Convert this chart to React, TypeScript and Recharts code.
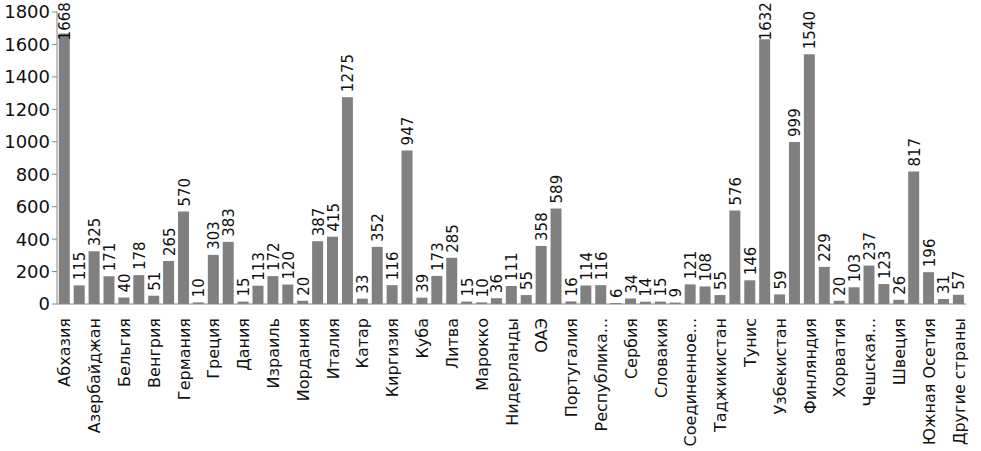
import React from 'react'
import { BarChart, Bar, XAxis, YAxis, LabelList } from 'recharts'

// подписи стоят только под каждым вторым столбцом
const countryLabels = [
    'Абхазия', 'Азербайджан', 'Бельгия', 'Венгрия', 'Германия', 'Греция', 'Дания', 'Израиль',
    'Иордания', 'Италия', 'Катар', 'Киргизия', 'Куба', 'Литва', 'Марокко', 'Нидерланды',
    'ОАЭ', 'Португалия', 'Республика...', 'Сербия', 'Словакия', 'Соединенное...', 'Таджикистан',
    'Тунис', 'Узбекистан', 'Финляндия', 'Хорватия', 'Чешская...', 'Швеция', 'Южная Осетия',
    'Другие страны',
]

const counts = [
    1668, 115, 325, 171, 40, 178, 51, 265, 570, 10, 303, 383, 15, 113, 172, 120, 20, 387, 415,
    1275, 33, 352, 116, 947, 39, 173, 285, 15, 10, 36, 111, 55, 358, 589, 16, 114, 116, 6, 34,
    14, 15, 9, 121, 108, 55, 576, 146, 1632, 59, 999, 1540, 229, 20, 103, 237, 123, 26, 817,
    196, 31, 57,
]

const yTicks = [0, 200, 400, 600, 800, 1000, 1200, 1400, 1600, 1800]

const data = counts.map((value, i) => ({
    id: i,
    name: i % 2 === 0 ? countryLabels[i / 2] : '',
    value,
}))

const FONT = '"DejaVu Sans", sans-serif'

const CountryTick = (props: any) => {
    const { x, y, payload } = props
    const label = data[payload.value]?.name ?? ''
    return (
        <text
            x={0}
            y={0}
            transform={`translate(${x + 6},${y + 6}) rotate(-90)`}
            textAnchor="end"
            fontSize={16}
            fontFamily={FONT}
            fill="#111"
        >
            {label}
        </text>
    )
}

const ValueLabel = (props: any) => {
    const { x, y, width, value } = props
    const cx = x + width / 2 + 6
    // высокие подписи не должны вылезать за верх картинки
    const textLen = String(value).length * 9.6
    const base = Math.max(y - 5, textLen + 2)
    return (
        <text
            x={0}
            y={0}
            transform={`translate(${cx},${base}) rotate(-90)`}
            textAnchor="start"
            fontSize={15}
            fontFamily={FONT}
            fill="#111"
        >
            {value}
        </text>
    )
}

const App = () => {
    return (
        <div style={{ position: 'absolute', left: 0, top: 0, background: '#fff' }}>
            <BarChart
                width={981}
                height={451}
                data={data}
                margin={{ top: 12, right: 15, bottom: 0, left: 0 }}
                barCategoryGap="12%"
            >
                <XAxis
                    dataKey="id"
                    type="category"
                    interval={0}
                    height={147}
                    tickLine={false}
                    axisLine={{ stroke: '#868686' }}
                    tick={<CountryTick />}
                />
                <YAxis
                    width={57}
                    domain={[0, 1800]}
                    ticks={yTicks}
                    interval={0}
                    axisLine={{ stroke: '#868686' }}
                    tickLine={{ stroke: '#868686' }}
                    tickSize={5}
                    tick={{ fontSize: 18, fontFamily: FONT, fill: '#111' }}
                />
                <Bar dataKey="value" fill="#808080" isAnimationActive={false}>
                    <LabelList dataKey="value" content={<ValueLabel />} />
                </Bar>
            </BarChart>
        </div>
    )
}

export default App
